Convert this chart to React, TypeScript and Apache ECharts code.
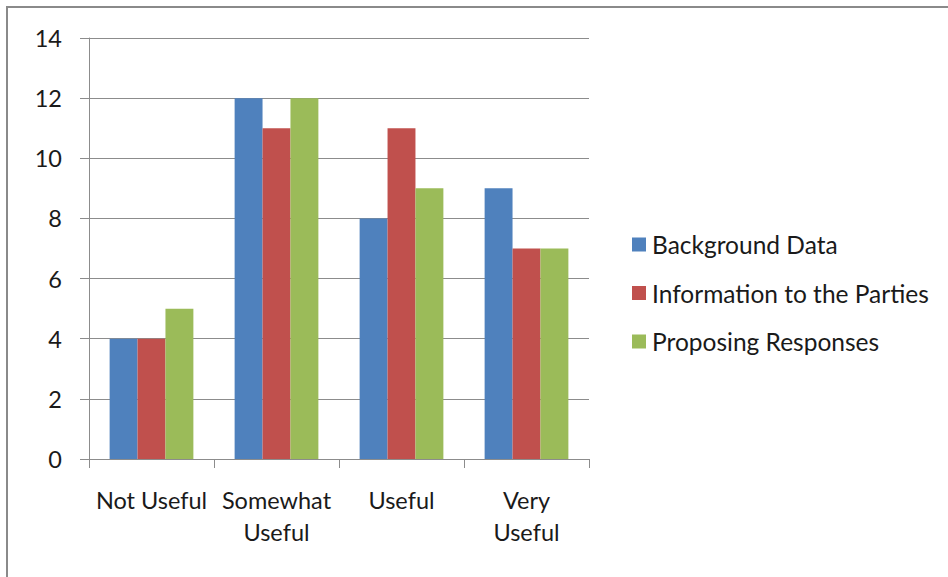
import React, { useEffect, useRef } from "react";
import * as echarts from "echarts";

const categories = ["Not Useful", "Somewhat\nUseful", "Useful", "Very\nUseful"];
const seriesNames = ["Background Data", "Information to the Parties", "Proposing Responses"];
const backgroundData = [4, 12, 8, 9];
const informationToParties = [4, 11, 11, 7];
const proposingResponses = [5, 12, 9, 7];
const seriesColors = ["#4F81BD", "#C0504D", "#9BBB59"];

const FONT = "Lato, 'Open Sans', sans-serif";
const TEXT = "#1a1a1a";
const GRID_GRAY = "#8c8c8c";

export default function App() {
  const ref = useRef<HTMLDivElement>(null);

  useEffect(() => {
    if (!ref.current) return;
    const chart = echarts.init(ref.current, null, { renderer: "svg" });
    const values = [backgroundData, informationToParties, proposingResponses];
    chart.setOption({
      animation: false,
      backgroundColor: "#ffffff",
      textStyle: { fontFamily: FONT },
      grid: { left: 89, top: 38, right: 359, bottom: 118 },
      legend: {
        orient: "vertical",
        left: 632,
        top: 232,
        padding: 0,
        itemWidth: 14,
        itemHeight: 14,
        itemGap: 23.5,
        icon: "rect",
        textStyle: { fontFamily: FONT, fontSize: 24.5, color: TEXT, padding: [0, 0, 0, 1] },
        data: seriesNames,
      },
      xAxis: {
        type: "category",
        data: categories,
        axisLine: { show: true, lineStyle: { color: GRID_GRAY, width: 1 } },
        axisTick: { show: true, length: 9, alignWithLabel: false, lineStyle: { color: GRID_GRAY } },
        axisLabel: {
          fontFamily: FONT,
          fontSize: 23.5,
          color: TEXT,
          margin: 25,
          lineHeight: 32,
          interval: 0,
        },
      },
      yAxis: {
        type: "value",
        min: 0,
        max: 14,
        interval: 2,
        axisLine: { show: true, lineStyle: { color: GRID_GRAY, width: 1 } },
        axisTick: { show: true, length: 9, lineStyle: { color: GRID_GRAY } },
        splitLine: { show: true, lineStyle: { color: GRID_GRAY, width: 1 } },
        axisLabel: { fontFamily: FONT, fontSize: 23.5, color: TEXT, margin: 27 },
      },
      series: seriesNames.map((name, i) => ({
        name,
        type: "bar",
        data: values[i],
        barGap: "0%",
        barCategoryGap: "33%",
        itemStyle: { color: seriesColors[i] },
      })),
      graphic: [
        {
          type: "rect",
          shape: { x: 7, y: 7, width: 1200, height: 1200 },
          style: { fill: "none", stroke: "#8a8a8a", lineWidth: 2 },
          z: 100,
          silent: true,
        },
      ],
    });
    return () => chart.dispose();
  }, []);

  return (
    <div
      ref={ref}
      style={{ position: "fixed", left: 0, top: 0, width: 948, height: 577 }}
    />
  );
}
